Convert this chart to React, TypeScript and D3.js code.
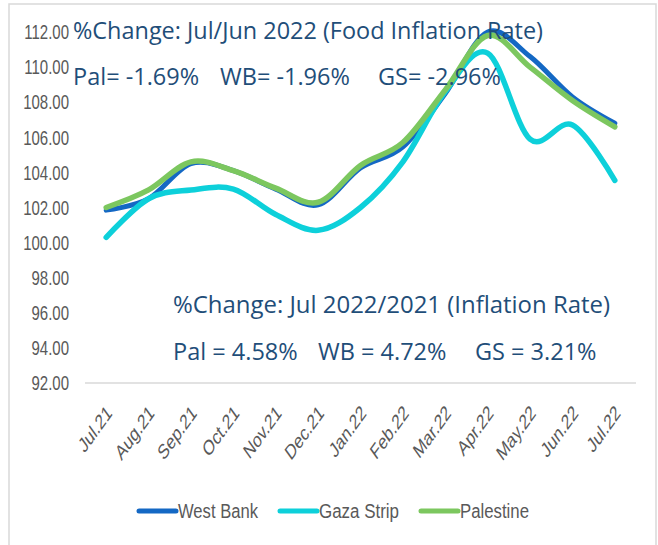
import React from "react";
import * as d3 from "d3";

const categories = ["Jul.21","Aug.21","Sep.21","Oct.21","Nov.21","Dec.21","Jan.22","Feb.22","Mar.22","Apr.22","May.22","Jun.22","Jul.22"];
const westBank = [101.85, 102.5, 104.5, 104.1, 103.05, 102.15, 104.25, 105.45, 108.5, 112.0, 110.6, 108.3, 106.8];
const gazaStrip = [100.3, 102.5, 103.0, 103.05, 101.6, 100.7, 102.0, 104.6, 108.6, 110.8, 105.9, 106.7, 103.55];
const palestine = [102.0, 103.0, 104.6, 104.1, 103.1, 102.3, 104.4, 105.7, 108.7, 111.8, 110.0, 108.1, 106.6];
const yTicks = [92, 94, 96, 98, 100, 102, 104, 106, 108, 110, 112];
const seriesNames = ["West Bank", "Gaza Strip", "Palestine"];
const seriesColors = ["#1468C4", "#0DD0DA", "#7CC75F"];
const titleTop = "%Change: Jul/Jun 2022 (Food Inflation Rate)";
const topValues = ["Pal= -1.69%", "WB= -1.96%", "GS= -2.96%"];
const titleBottom = "%Change: Jul 2022/2021 (Inflation Rate)";
const bottomValues = ["Pal = 4.58%", "WB = 4.72%", "GS = 3.21%"];

export default function App() {
  const W = 658, H = 545;
  const x = d3.scaleBand<string>().domain(categories).range([85, 636]).padding(0);
  const cx = (c: string) => (x(c) as number) + x.bandwidth() / 2;
  const y = d3.scaleLinear().domain([92, 112]).range([383, 32]);
  const line = d3.line<number>()
    .x((_, i) => cx(categories[i]))
    .y((d) => y(d))
    .curve(d3.curveCatmullRom.alpha(0));
  const series = [westBank, gazaStrip, palestine];
  const tickFont = "'Liberation Sans', sans-serif";
  const annFont = "'Open Sans', sans-serif";
  const annColor = "#1F4E79";
  const legendX = [139, 280, 421];
  const legendLen = [80, 80, 69];
  const topX = [73, 220, 378];
  const botX = [173, 318, 475];
  return (
    <svg width={W} height={H} style={{ position: "absolute", left: 0, top: 0, background: "#fff" }}>
      <rect x={9} y={4} width={647} height={560} fill="#fff" stroke="#D9D9D9" strokeWidth={1.5} />
      <line x1={85} x2={636} y1={y(92)} y2={y(92)} stroke="#D9D9D9" strokeWidth={1.5} />
      {yTicks.map((t) => (
        <g key={t} transform={`translate(69,${y(t)}) scale(0.75,1)`}>
          <text x={0} y={0} dy="0.36em" textAnchor="end" fontFamily={tickFont} fontSize={20} fill="#595959">{t.toFixed(2)}</text>
        </g>
      ))}
      {categories.map((c) => (
        <g key={c} transform={`translate(${cx(c) + 3},${409}) scale(0.72,1) rotate(-45)`}>
          <text x={0} y={0} dy="0.35em" textAnchor="end" fontFamily={tickFont} fontSize={21} fill="#595959">{c}</text>
        </g>
      ))}
      {series.map((s, i) => (
        <path key={seriesNames[i]} d={line(s) as string} fill="none" stroke={seriesColors[i]}
          strokeWidth={i === 0 ? 5 : 5.5} strokeLinecap="round" strokeLinejoin="round" />
      ))}
      <text x={73} y={39} fontFamily={annFont} fontSize={23.5} fill={annColor} textLength={470} lengthAdjust="spacingAndGlyphs">{titleTop}</text>
      {topValues.map((t, i) => (
        <text key={t} x={topX[i]} y={85} fontFamily={annFont} fontSize={23.5} fill={annColor}>{t}</text>
      ))}
      <text x={173} y={313} fontFamily={annFont} fontSize={23.5} fill={annColor} textLength={437} lengthAdjust="spacingAndGlyphs">{titleBottom}</text>
      {bottomValues.map((t, i) => (
        <text key={t} x={botX[i]} y={360} fontFamily={annFont} fontSize={23.5} fill={annColor}>{t}</text>
      ))}
      {seriesNames.map((n, i) => (
        <g key={n}>
          <line x1={legendX[i]} x2={legendX[i] + 37} y1={511} y2={511} stroke={seriesColors[i]} strokeWidth={5} strokeLinecap="round" />
          <text x={legendX[i] + 39} y={511} dy="0.36em" fontFamily={tickFont} fontSize={20} fill="#595959"
            textLength={legendLen[i]} lengthAdjust="spacingAndGlyphs">{n}</text>
        </g>
      ))}
    </svg>
  );
}
